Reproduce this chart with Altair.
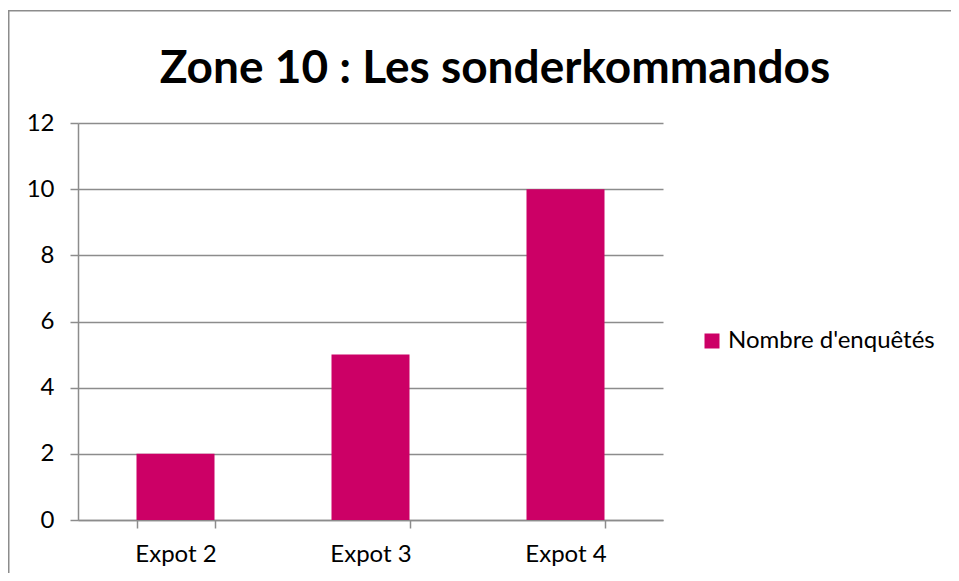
import altair as alt
import pandas as pd

categories = ["Expot 2", "Expot 3", "Expot 4"]
values = [2, 5, 10]
series_name = "Nombre d'enquêtés"
title_text = "Zone 10 : Les sonderkommandos"
y_ticks = [0, 2, 4, 6, 8, 10, 12]

df = pd.DataFrame({"cat": categories, "val": values, "series": [series_name] * len(categories)})

BAR = "#CC0066"
GRID = "#8C8C8C"
FONT = "Lato"

W, H = 585, 397

one = pd.DataFrame({"a": [0]})

border_top = alt.Chart(one).mark_rect(color=GRID).encode(
    x=alt.value(-70), x2=alt.value(1000), y=alt.value(-113), y2=alt.value(-111.5)
)
border_left = alt.Chart(one).mark_rect(color=GRID).encode(
    x=alt.value(-70), x2=alt.value(-68.5), y=alt.value(-113), y2=alt.value(700)
)

title = alt.Chart(pd.DataFrame({"t": [title_text]})).mark_text(
    font=FONT, fontSize=46, fontWeight="bold", color="#000000",
    align="center", baseline="alphabetic"
).encode(text="t:N", x=alt.value(417), y=alt.value(-40))

bars = alt.Chart(df).mark_bar(color=BAR).encode(
    x=alt.X("cat:N", sort=categories, title=None,
            scale=alt.Scale(paddingInner=0.6, paddingOuter=0.3),
            axis=alt.Axis(labelAngle=0, tickBand="extent", tickSize=8, tickColor=GRID,
                          domainColor=GRID, tickWidth=1.5, domainWidth=1.5,
                          labelFont=FONT, labelFontSize=24, labelColor="#000000",
                          labelPadding=14, grid=False)),
    y=alt.Y("val:Q", title=None,
            scale=alt.Scale(domain=[0, 12], nice=False),
            axis=alt.Axis(values=y_ticks, tickSize=8, tickColor=GRID, domainColor=GRID,
                          tickWidth=1.5, domainWidth=1.5, gridColor=GRID, gridWidth=1.5,
                          labelFont=FONT, labelFontSize=24, labelColor="#000000",
                          labelPadding=16)),
    color=alt.Color("series:N", scale=alt.Scale(range=[BAR]),
                    legend=alt.Legend(title=None, orient="none", legendX=622, legendY=206,
                                      symbolType="square", symbolSize=225,
                                      labelFont=FONT, labelFontSize=24, labelColor="#000000",
                                      labelOffset=4, labelLimit=400, symbolStrokeWidth=0)),
)

chart = alt.layer(border_top, border_left, title, bars).properties(
    width=W, height=H,
    autosize=alt.AutoSizeParams(type="none"),
    padding={"left": 70, "top": 115, "right": 288, "bottom": 53},
).configure_view(stroke=None)

chart.save("out.html", embed_options={"renderer": "svg", "actions": False})
